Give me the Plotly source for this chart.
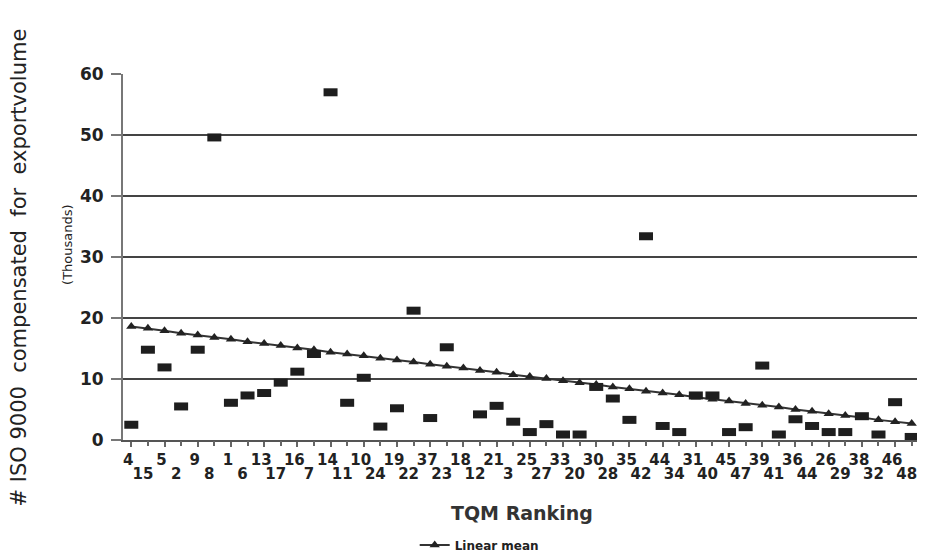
import plotly.graph_objects as go

# TQM ranking labels: top row (even positions), bottom row (odd positions)
top_labels = ["4", "5", "9", "1", "13", "16", "14", "10", "19", "37", "18", "21",
              "25", "33", "30", "35", "44", "31", "45", "39", "36", "26", "38", "46"]
bottom_labels = ["15", "2", "8", "6", "17", "7", "11", "24", "22", "23", "12", "3",
                 "27", "20", "28", "42", "34", "40", "47", "41", "44", "29", "32", "48"]

# ISO 9000 certificates compensated for export volume (thousands)
iso_values = [2.5, 14.8, 11.9, 5.5, 14.8, 49.6, 6.1, 7.3, 7.7, 9.4, 11.2, 14.1,
              57.0, 6.1, 10.2, 2.2, 5.2, 21.2, 3.6, 15.2, None, 4.2, 5.6, 3.0,
              1.3, 2.6, 0.9, 0.9, 8.7, 6.8, 3.3, 33.4, 2.3, 1.3, 7.3, 7.3,
              1.3, 2.1, 12.2, 0.9, 3.4, 2.3, 1.3, 1.3, 3.9, 0.9, 6.2, 0.5]

# Linear mean (trend) values read at each position
linear_mean = [18.6, 18.3, 17.9, 17.5, 17.2, 16.8, 16.5, 16.1, 15.8, 15.5, 15.1, 14.8,
               14.4, 14.1, 13.8, 13.4, 13.1, 12.8, 12.4, 12.1, 11.8, 11.4, 11.1, 10.7,
               10.4, 10.1, 9.7, 9.4, 9.1, 8.7, 8.4, 8.0, 7.7, 7.4, 7.0, 6.7,
               6.4, 6.0, 5.7, 5.4, 5.0, 4.7, 4.3, 4.0, 3.7, 3.3, 3.0, 2.7]

n = len(iso_values)
pos = list(range(n))
top_pos = pos[0::2]
bottom_pos = pos[1::2]

FONT = "DejaVu Sans"
TXT = "#222222"

fig = go.Figure()

fig.add_trace(go.Scatter(
    x=pos, y=linear_mean, mode="lines+markers", name="Linear mean",
    line=dict(color="#333333", width=2),
    marker=dict(symbol="triangle-up", size=9, color="#222222"),
    xaxis="x", yaxis="y", cliponaxis=False,
))

fig.add_trace(go.Scatter(
    x=pos, y=iso_values, mode="markers", showlegend=False,
    marker=dict(symbol="line-ew", size=10, color="#1e1e1e",
                line=dict(color="#1e1e1e", width=8)),
    xaxis="x2", yaxis="y", cliponaxis=False,
))

fig.update_layout(
    width=917, height=546,
    margin=dict(l=115, r=5, t=66, b=114, autoexpand=False),
    paper_bgcolor="white", plot_bgcolor="white",
    font=dict(family=FONT, color=TXT),
    xaxis=dict(
        range=[-0.5, n - 0.5], tickmode="array", tickvals=top_pos, ticktext=top_labels,
        tickangle=0, ticks="outside", ticklen=5, tickwidth=1.5, tickcolor="#666666",
        ticklabelshift=-3,
        showline=True, linecolor="#555555", linewidth=2, showgrid=False, zeroline=False,
        tickfont=dict(family=FONT, size=15, color=TXT, weight="bold"),
    ),
    xaxis2=dict(
        overlaying="x", side="bottom", matches="x",
        range=[-0.5, n - 0.5], tickmode="array", tickvals=bottom_pos, ticktext=bottom_labels,
        tickangle=0, ticks="outside", ticklen=5, tickwidth=1.5, tickcolor="#666666",
        ticklabelstandoff=15, ticklabelshift=-5,
        showline=False, showgrid=False, zeroline=False,
        tickfont=dict(family=FONT, size=15, color=TXT, weight="bold"),
    ),
    yaxis=dict(
        range=[0, 60], tickvals=[0, 10, 20, 30, 40, 50, 60],
        ticks="outside", ticklen=10, tickwidth=2, tickcolor="#777777",
        ticklabelstandoff=4,
        showline=True, linecolor="#777777", linewidth=2, mirror=True,
        showgrid=True, gridcolor="#444444", gridwidth=2, zeroline=False,
        tickfont=dict(family=FONT, size=17, color=TXT, weight="bold"),
    ),
    legend=dict(
        orientation="h", x=0.366, xanchor="left", y=-0.287, yanchor="middle",
        font=dict(family=FONT, size=12, color=TXT, weight="bold"),
        bgcolor="rgba(0,0,0,0)",
    ),
    annotations=[
        dict(text="# ISO 9000  compensated  for  exportvolume", xref="paper", yref="paper",
             x=-0.131, y=0.47, xanchor="center", yanchor="middle", textangle=-90,
             showarrow=False, font=dict(family=FONT, size=21, color=TXT)),
        dict(text="(Thousands)", xref="paper", yref="paper",
             x=-0.069, y=0.533, xanchor="center", yanchor="middle", textangle=-90,
             showarrow=False, font=dict(family=FONT, size=13, color=TXT)),
        dict(text="TQM Ranking", xref="paper", yref="paper",
             x=0.5, y=-0.1995, xanchor="center", yanchor="middle",
             showarrow=False, font=dict(family=FONT, size=19, color="#333333", weight="bold")),
    ],
)

fig.write_html("out.html")
